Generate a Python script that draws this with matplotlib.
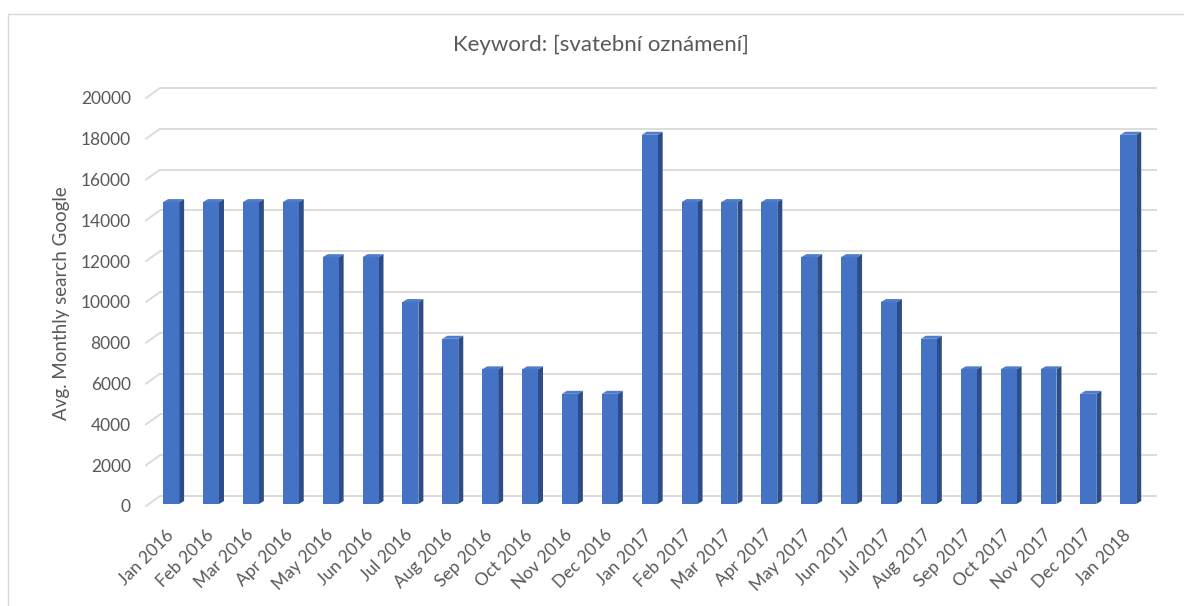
import matplotlib
matplotlib.use("Agg")
import matplotlib.pyplot as plt
import matplotlib.transforms as mtransforms
from matplotlib.patches import Rectangle, Polygon

plt.rcParams["font.family"] = ["Lato", "DejaVu Sans"]

months = ["Jan 2016", "Feb 2016", "Mar 2016", "Apr 2016", "May 2016", "Jun 2016",
          "Jul 2016", "Aug 2016", "Sep 2016", "Oct 2016", "Nov 2016", "Dec 2016",
          "Jan 2017", "Feb 2017", "Mar 2017", "Apr 2017", "May 2017", "Jun 2017",
          "Jul 2017", "Aug 2017", "Sep 2017", "Oct 2017", "Nov 2017", "Dec 2017",
          "Jan 2018"]
searches = [14800, 14800, 14800, 14800, 12100, 12100, 9900, 8100, 6600, 6600, 5400, 5400,
            18100, 14800, 14800, 14800, 12100, 12100, 9900, 8100, 6600, 6600, 6600, 5400,
            18100]
y_ticks = list(range(0, 20001, 2000))

W, H, DPI = 1184, 606, 100
fig = plt.figure(figsize=(W / DPI, H / DPI), dpi=DPI)
fig.patch.set_facecolor("white")

# outer chart-area frame
fig.add_artist(Rectangle((8 / W, 1 - 614 / H), 1.2, 600 / H, transform=fig.transFigure,
                         fill=False, edgecolor="#d9d9d9", lw=1.0))

# front plane of the plot area (pixels from the top-left)
left, right, top, bottom = 146, 1143, 98, 506
ax = fig.add_axes([left / W, 1 - bottom / H, (right - left) / W, (bottom - top) / H])
x_lo, x_hi = -0.63, 24.37
ax.set_xlim(x_lo, x_hi)
ax.set_ylim(0, 20000)
for s in ax.spines.values():
    s.set_visible(False)
ax.set_facecolor("none")

text_col = "#595959"
grid_col = "#d9d9d9"

# back-wall gridlines, shifted back in depth, plus the side-wall diagonals
wall_dx, wall_dy = 14, 10
back = mtransforms.offset_copy(ax.transData, fig=fig, x=wall_dx, y=wall_dy, units="dots")
for v in y_ticks:
    ax.plot([x_lo, x_hi], [v, v], color=grid_col, lw=1.3, transform=back,
            clip_on=False, zorder=1, solid_capstyle="butt")
    p0 = ax.transData.transform((x_lo, v))
    p1 = back.transform((x_lo, v))
    q0, q1 = ax.transData.inverted().transform([p0, p1])
    ax.plot([q0[0], q1[0]], [q0[1], q1[1]], color=grid_col, lw=1.3,
            clip_on=False, zorder=1)

# bars stand slightly behind the front plane
bars_tr = mtransforms.offset_copy(ax.transData, fig=fig, x=0, y=2, units="dots")

# pixel -> data scale for the bar depth
inv = ax.transData.inverted()
o = inv.transform((0, 0))
d = inv.transform((5, 3))
ddx, ddy = d[0] - o[0], d[1] - o[1]

front_col = "#4472c4"
side_col = "#2c4d87"
top_col = "#4f7ccb"
bw = 0.40
for i, v in enumerate(searches):
    x0, x1 = i - bw / 2, i + bw / 2
    ax.add_patch(Polygon([(x1, 0), (x1 + ddx, ddy), (x1 + ddx, v + ddy), (x1, v)],
                         closed=True, facecolor=side_col, edgecolor="none", zorder=3,
                         transform=bars_tr, clip_on=False))
    ax.add_patch(Polygon([(x0, v), (x1, v), (x1 + ddx, v + ddy), (x0 + ddx, v + ddy)],
                         closed=True, facecolor=top_col, edgecolor="none", zorder=3,
                         transform=bars_tr, clip_on=False))
    ax.add_patch(Rectangle((x0, 0), bw, v, facecolor=front_col, edgecolor="none", zorder=4,
                           transform=bars_tr, clip_on=False))

ax.set_yticks(y_ticks)
ax.set_yticklabels([str(v) for v in y_ticks])
ax.tick_params(axis="y", length=0, pad=11, labelsize=12.5, labelcolor=text_col)

ax.set_xticks(range(len(months)))
ax.set_xticklabels(months, rotation=45, ha="right", va="center", rotation_mode="anchor")
ax.tick_params(axis="x", length=0, pad=19, labelsize=12.5, labelcolor=text_col)

fig.text(62 / W, 1 - 303 / H, "Avg. Monthly search Google", rotation=90,
         ha="center", va="center", fontsize=13.5, color=text_col)
fig.text(601 / W, 1 - 45 / H, "Keyword: [svatební oznámení]", ha="center", va="center",
         fontsize=16, color=text_col)

fig.savefig("out.png", dpi=DPI, facecolor="white")
